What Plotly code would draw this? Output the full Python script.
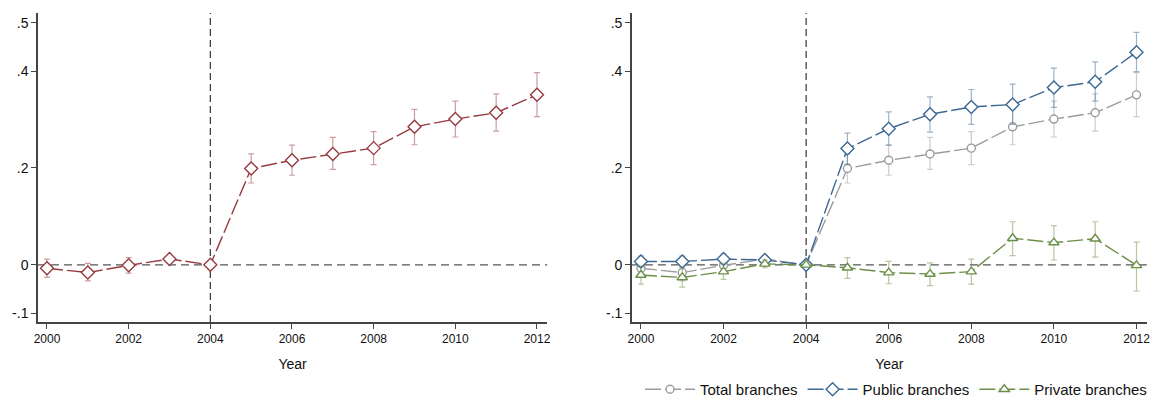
import plotly.graph_objects as go
import numpy as np

# Event-study estimates by year, with 95% confidence bounds
years = [2000, 2001, 2002, 2003, 2004, 2005, 2006, 2007, 2008, 2009, 2010, 2011, 2012]

total_est = [-0.007, -0.016, -0.001, 0.012, 0.0, 0.199, 0.216, 0.229, 0.241, 0.285, 0.301, 0.314, 0.351]
total_hi = [0.012, 0.003, 0.015, 0.019, 0.0, 0.229, 0.247, 0.263, 0.275, 0.321, 0.338, 0.353, 0.397]
total_lo = [-0.026, -0.033, -0.017, 0.005, 0.0, 0.169, 0.185, 0.197, 0.207, 0.248, 0.264, 0.276, 0.306]

public_est = [0.007, 0.007, 0.012, 0.010, 0.0, 0.240, 0.281, 0.311, 0.326, 0.331, 0.366, 0.378, 0.439]
public_hi = [0.018, 0.018, 0.022, 0.018, 0.0, 0.272, 0.316, 0.347, 0.362, 0.373, 0.406, 0.419, 0.480]
public_lo = [-0.004, -0.004, 0.002, 0.002, 0.0, 0.208, 0.247, 0.274, 0.290, 0.290, 0.325, 0.338, 0.399]

private_est = [-0.021, -0.026, -0.014, 0.002, 0.0, -0.006, -0.016, -0.019, -0.014, 0.055, 0.046, 0.054, -0.001]
private_hi = [-0.002, -0.006, 0.003, 0.010, 0.0, 0.015, 0.007, 0.004, 0.012, 0.089, 0.081, 0.089, 0.047]
private_lo = [-0.040, -0.046, -0.030, -0.006, 0.0, -0.028, -0.039, -0.043, -0.040, 0.019, 0.010, 0.016, -0.054]

y_tickvals = [-0.1, 0, 0.2, 0.4, 0.5]
y_ticktext = ["-.1", "0", ".2", ".4", ".5"]
x_tickvals = [2000, 2002, 2004, 2006, 2008, 2010, 2012]

MAROON = "#983b40"
GRAY = "#9c9c9c"
BLUE = "#3d6894"
GREEN = "#6c8f48"
FONT = "Liberation Sans, Arial, sans-serif"


def rgba(hex_color, a):
    h = hex_color.lstrip("#")
    r, g, b = int(h[0:2], 16), int(h[2:4], 16), int(h[4:6], 16)
    return f"rgba({r},{g},{b},{a})"


def series(name, est, lo, hi, color, symbol, size, xaxis, yaxis, showlegend):
    est = np.array(est)
    up = np.array(hi) - est
    down = est - np.array(lo)
    return go.Scatter(
        x=years, y=est, name=name, mode="lines+markers",
        xaxis=xaxis, yaxis=yaxis, showlegend=showlegend,
        line=dict(color=color, width=1.4, dash="16px,4px"),
        marker=dict(symbol=symbol, size=size, color="white",
                    line=dict(color=color, width=1.4)),
        error_y=dict(type="data", symmetric=False, array=up, arrayminus=down,
                     color=rgba(color, 0.5), thickness=1.2, width=3),
    )


fig = go.Figure()

# Left panel: all branches
fig.add_trace(series("Total branches", total_est, total_lo, total_hi,
                     MAROON, "diamond", 10, "x", "y", False))

# Right panel: all, public and private branches
fig.add_trace(series("Total branches", total_est, total_lo, total_hi,
                     GRAY, "circle", 8, "x2", "y2", True))
fig.add_trace(series("Public branches", public_est, public_lo, public_hi,
                     BLUE, "diamond", 10, "x2", "y2", True))
fig.add_trace(series("Private branches", private_est, private_lo, private_hi,
                     GREEN, "triangle-up", 9, "x2", "y2", True))

x_range = [1999.78, 2012.25]
y_range = [-0.118, 0.52]

axis_common = dict(showgrid=False, zeroline=False, showline=True,
                   linecolor="#444", linewidth=1.5, ticks="outside",
                   ticklen=5, tickcolor="#444", tickwidth=1.2)

xaxis_common = dict(axis_common, range=x_range, tickvals=x_tickvals,
                    tickfont=dict(family=FONT, size=12, color="#111"),
                    title=dict(text="Year", font=dict(family=FONT, size=14, color="#111"),
                               standoff=14))
yaxis_common = dict(axis_common, range=y_range, tickvals=y_tickvals, ticktext=y_ticktext,
                    tickfont=dict(family=FONT, size=14, color="#111"))

fig.update_layout(
    width=1152, height=400,
    margin=dict(l=0, r=0, t=0, b=0, autoexpand=False),
    paper_bgcolor="white", plot_bgcolor="white",
    xaxis=dict(xaxis_common, domain=[0.033, 0.475], anchor="y"),
    yaxis=dict(yaxis_common, domain=[0.195, 0.9675], anchor="x"),
    xaxis2=dict(xaxis_common, domain=[0.5485, 0.9955], anchor="y2"),
    yaxis2=dict(yaxis_common, domain=[0.195, 0.9675], anchor="x2"),
    legend=dict(orientation="h", x=1.0, xanchor="right", y=-0.015, yanchor="bottom",
                font=dict(family=FONT, size=15, color="#111"),
                itemwidth=50, tracegroupgap=0, bgcolor="rgba(0,0,0,0)"),
    font=dict(family=FONT),
)

# Reference lines: zero effect and treatment year
for xr, yr in (("x", "y"), ("x2", "y2")):
    fig.add_shape(type="line", xref=f"{xr} domain", yref=yr, x0=0, x1=1, y0=0, y1=0,
                  line=dict(color="#555", width=1.4, dash="8px,5px"), layer="below")
    fig.add_shape(type="line", xref=xr, yref=f"{yr} domain", x0=2004, x1=2004, y0=0, y1=1,
                  line=dict(color="#333", width=1.2, dash="7px,4px"), layer="below")

fig.write_html("out.html")
